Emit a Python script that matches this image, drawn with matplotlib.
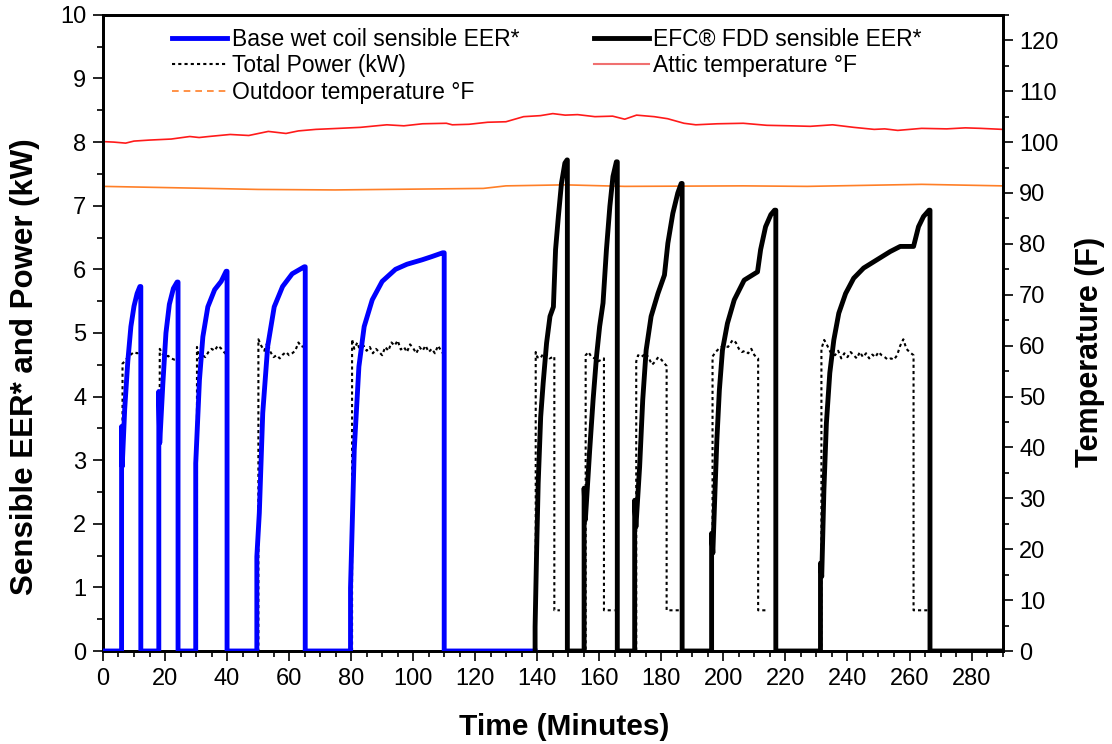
import numpy as np
import matplotlib
matplotlib.use("Agg")
import matplotlib.pyplot as plt
from matplotlib.lines import Line2D
from matplotlib.ticker import MultipleLocator

plt.rcParams['font.family'] = ['Liberation Sans', 'DejaVu Sans']

nan = np.nan

# Base wet coil sensible EER* (left axis)
base_t = [0, 6.0, 6.0, 6.2, 7.0, 8.0, 9.0, 10.0, 11.0, 11.9, 12.2, 12.2,
          18.0, 18.0, 18.3, 19.3, 20.3, 21.4, 22.7, 23.9, 24.2, 24.2,
          29.9, 29.9, 31.1, 32.2, 33.8, 36.0, 38.1, 39.7, 40.0, 40.0,
          49.6, 49.6, 50.4, 51.5, 53.1, 55.2, 57.9, 61.0, 64.9, 65.2, 65.2,
          79.8, 79.8, 81.0, 82.5, 84.2, 86.8, 90.0, 94.3, 98.0, 102.9, 106.0, 109.5, 110.0, 110.0,
          139.3]
base_eer = [0, 0, 3.53, 2.9, 3.8, 4.55, 5.1, 5.42, 5.62, 5.73, 5.73, 0,
            0, 4.08, 3.27, 4.2, 5.0, 5.45, 5.7, 5.8, 5.8, 0,
            0, 2.95, 4.26, 4.94, 5.41, 5.68, 5.81, 5.97, 5.97, 0,
            0, 1.48, 2.17, 3.74, 4.79, 5.41, 5.73, 5.93, 6.04, 6.04, 0,
            0, 0.99, 3.16, 4.47, 5.1, 5.52, 5.81, 6.0, 6.08, 6.15, 6.2, 6.26, 6.26, 0,
            0]

# EFC FDD sensible EER* (left axis)
efc_t = [139.3, 139.3, 139.8, 140.3, 141.1, 141.9, 143.0, 144.1, 145.2, 145.9, 146.8, 147.8, 148.9, 149.6, 149.7, 149.7,
         155.1, 155.1, 155.5, 156.9, 158.0, 159.1, 160.1, 161.2, 162.3, 163.4, 164.4, 165.5, 165.8, 165.8,
         171.4, 171.4, 171.8, 173.0, 174.0, 175.1, 176.7, 178.9, 181.0, 182.1, 183.7, 185.3, 186.4, 186.7, 186.7,
         196.2, 196.2, 196.6, 197.3, 197.9, 198.7, 199.7, 201.3, 203.5, 206.7, 211.0, 212.0, 213.6, 215.3,
         216.5, 216.9, 216.9,
         231.3, 231.3, 231.7, 232.4, 233.2, 234.3, 235.6, 237.2, 239.4, 242.0, 245.2, 249.5, 253.8, 257.0,
         261.3, 262.9, 264.5, 266.3, 266.6, 266.6, 290]
efc_eer = [0, 0.38, 1.59, 2.64, 3.68, 4.21, 4.84, 5.26, 5.41, 6.31, 6.83, 7.35, 7.67, 7.72, 7.72, 0,
           0, 2.56, 2.06, 3.16, 3.95, 4.63, 5.1, 5.47, 6.31, 6.99, 7.46, 7.69, 7.69, 0,
           0, 2.37, 1.95, 2.9, 3.95, 4.73, 5.26, 5.62, 5.91, 6.41, 6.88, 7.2, 7.35, 7.35, 0,
           0, 1.85, 1.54, 2.53, 3.32, 4.1, 4.73, 5.15, 5.52, 5.83, 5.96, 6.31, 6.67, 6.86,
           6.93, 6.93, 0,
           0, 1.38, 1.17, 2.53, 3.58, 4.37, 4.89, 5.31, 5.62, 5.86, 6.02, 6.15, 6.28, 6.36,
           6.36, 6.67, 6.83, 6.93, 6.93, 0, 0]

# Total power (kW) (left axis)
power_t = [0, 6.3, 6.3, 7.0, 8.0, 9.0, 10.0, 11.0, 12.2, 12.2,
           18.3, 18.3, 19.0, 20.0, 21.0, 22.0, 23.0, 24.2, 24.2,
           30.3, 30.3, 31.0, 32.0, 33.0, 34.0, 35.0, 36.0, 37.0, 38.0, 39.0, 40.0, 40.0,
           50.1, 50.1, 51, 52, 53, 54, 55, 56, 57, 58, 59, 60, 61, 62, 63, 64, 65, 65,
           80.3, 80.3, 81, 82, 83, 84, 85, 86, 87, 88, 89, 90, 91, 92, 93, 94, 95, 96,
           97, 98, 99, 100, 101, 102, 103, 104, 105, 106, 107, 108, 109, 110, 110,
           139.5, 139.5, 140, 141, 142, 143, 144, 145.5, 145.5, 147.3, 147.4,
           150.0, 155.6, 155.6, 156.5, 157.5, 158.5, 159.5, 161.5, 161.5, 164.9, 165.0,
           166.0, 171.9, 171.9, 172.5, 173.5, 175, 176, 177, 178, 179, 180, 181.7, 181.7, 185.8, 185.9,
           186.7, 196.5, 196.5, 197.5, 198.5, 200, 201.5, 203, 204, 205, 206, 207, 208, 209, 210,
           211.2, 211.2, 214.2, 214.3,
           216.9, 231.6, 231.6, 232.5, 233.5, 234.5, 236, 237, 238, 239, 240, 241, 242, 243, 244,
           245, 246, 247, 248, 249, 250, 251, 252, 253, 254, 255, 256, 257, 258, 259, 260,
           261.3, 261.3, 266.4, 266.5, 266.6, 290]
power_kw = [0, 0, 4.52, 4.55, 4.62, 4.66, 4.70, 4.68, 4.70, 0,
            0, 4.75, 4.68, 4.62, 4.64, 4.60, 4.58, 4.58, 0,
            0, 4.78, 4.60, 4.65, 4.62, 4.70, 4.75, 4.72, 4.80, 4.76, 4.70, 4.65, 0,
            0, 4.90, 4.80, 4.72, 4.85, 4.70, 4.62, 4.65, 4.60, 4.66, 4.70, 4.65, 4.68, 4.72, 4.85, 4.78, 4.80, 0,
            0, 4.90, 4.75, 4.85, 4.70, 4.80, 4.72, 4.78, 4.68, 4.75, 4.70, 4.65, 4.78, 4.72, 4.85, 4.80, 4.88, 4.74,
            4.78, 4.70, 4.82, 4.76, 4.68, 4.78, 4.72, 4.80, 4.70, 4.75, 4.68, 4.80, 4.72, 4.65, 0,
            0, 4.70, 4.62, 4.60, 4.68, 4.66, 4.60, 4.63, 0.64, 0.64, nan,
            0, 0, 4.65, 4.70, 4.62, 4.60, 4.55, 4.60, 0.64, 0.64, nan,
            0, 0, 4.55, 4.65, 4.62, 4.68, 4.60, 4.50, 4.55, 4.62, 4.58, 4.48, 0.64, 0.64, nan,
            0, 0, 4.63, 4.70, 4.75, 4.80, 4.78, 4.89, 4.85, 4.75, 4.70, 4.72, 4.68, 4.75, 4.65,
            4.60, 0.64, 0.64, nan,
            0, 0, 4.75, 4.89, 4.80, 4.70, 4.65, 4.72, 4.60, 4.68, 4.62, 4.70, 4.65, 4.60, 4.70,
            4.62, 4.68, 4.60, 4.66, 4.62, 4.70, 4.65, 4.62, 4.58, 4.60, 4.58, 4.65, 4.80, 4.90, 4.75, 4.70,
            4.65, 0.64, 0.64, nan, 0, 0]

# Attic temperature (right axis)
attic_t = [0, 3.5, 7.3, 10.0, 15.0, 22.0, 28.0, 31.0, 34.1, 41.0, 47.0, 53.3, 59.0, 63.0, 68.6,
           76.0, 83.0, 91.5, 97.0, 103.0, 110.7, 112.6, 118.0, 124.0, 129.9, 135.6, 141.0, 145.0, 149.0,
           153.0, 158.6, 164.3, 168.2, 172.0, 177.7, 182.0, 187.3, 191.1, 198.0, 206.4, 214.0, 221.7,
           228.0, 235.2, 242.0, 248.6, 252.0, 256.2, 263.9, 272.0, 278.0, 283.0, 290]
attic_f = [100.1, 100.0, 99.8, 100.2, 100.4, 100.6, 101.1, 100.9, 101.1, 101.5, 101.3, 102.1, 101.7, 102.2, 102.5,
           102.7, 102.9, 103.4, 103.2, 103.6, 103.7, 103.4, 103.5, 103.9, 104.0, 105.0, 105.2, 105.6, 105.3,
           105.4, 105.0, 105.1, 104.5, 105.3, 105.0, 104.6, 103.7, 103.4, 103.6, 103.7, 103.3, 103.2,
           103.1, 103.4, 102.9, 102.5, 102.6, 102.3, 102.7, 102.6, 102.8, 102.7, 102.5]

# Outdoor temperature (right axis)
outdoor_t = [0, 34, 50, 74.8, 122.6, 129.9, 149, 168.2, 206.4, 227, 263.9, 290]
outdoor_f = [91.3, 90.9, 90.7, 90.6, 90.9, 91.4, 91.6, 91.3, 91.4, 91.3, 91.7, 91.4]

fig = plt.figure(figsize=(11.12, 7.44), dpi=100)
ax = fig.add_axes([0.0926, 0.125, 0.809, 0.855])
ax2 = ax.twinx()

ax2.plot(attic_t, attic_f, color='#ff1a1a', lw=1.2)
ax2.plot(outdoor_t, outdoor_f, color='#ff7f27', lw=1.2)

ax.plot(power_t, power_kw, color='black', lw=1.5, ls=(0, (1.5, 1.5)), zorder=3)
ax.plot(base_t, base_eer, color='#0000ff', lw=3.5, zorder=4, solid_joinstyle='round')
ax.plot(efc_t, efc_eer, color='black', lw=3.5, zorder=4, solid_joinstyle='round')
ax.set_zorder(ax2.get_zorder() + 1)
ax.patch.set_visible(False)

ax.set_xlim(0, 290)
ax.set_ylim(0, 10)
ax2.set_ylim(0, 125)

ax.xaxis.set_major_locator(MultipleLocator(20))
ax.xaxis.set_minor_locator(MultipleLocator(5))
ax.yaxis.set_major_locator(MultipleLocator(1))
ax.yaxis.set_minor_locator(MultipleLocator(0.5))
ax2.yaxis.set_major_locator(MultipleLocator(10))
ax2.yaxis.set_minor_locator(MultipleLocator(5))

for a in (ax, ax2):
    a.tick_params(which='major', length=7, width=1.2, labelsize=17, direction='out', pad=5)
    a.tick_params(which='minor', length=4, width=1.2, direction='out')
    for s in a.spines.values():
        s.set_linewidth(2)

ax.set_xlabel('Time (Minutes)', fontsize=21.5, fontweight='bold', va='center')
ax.set_ylabel('Sensible EER* and Power (kW)', fontsize=22.5, fontweight='bold', va='center')
ax2.set_ylabel('Temperature (F)', fontsize=22, fontweight='bold', va='center')
ax.xaxis.set_label_coords(0.513, -0.119)
ax.yaxis.set_label_coords(-0.087, 0.447)
ax2.yaxis.set_label_coords(1.097, 0.47)

handles = [
    Line2D([], [], color='#0000ff', lw=3.5),
    Line2D([], [], color='black', lw=1.5, ls=(0, (1.5, 1.5))),
    Line2D([], [], color='#ff7f27', lw=1.2, ls=(0, (4, 3))),
    Line2D([], [], color='black', lw=3.5),
    Line2D([], [], color='#f07070', lw=1.5),
]
labels = ['Base wet coil sensible EER*', 'Total Power (kW)', 'Outdoor temperature °F',
          'EFC® FDD sensible EER*', 'Attic temperature °F']
ax.legend(handles, labels, ncol=2, loc='upper left',
          bbox_to_anchor=(172 / 1112, 1 - 28 / 744), bbox_transform=fig.transFigure,
          frameon=False, fontsize=16.5, handlelength=2.4, handletextpad=0.2,
          columnspacing=3.25, labelspacing=0.15, borderpad=0, borderaxespad=0)

fig.savefig('out.png', dpi=100)
